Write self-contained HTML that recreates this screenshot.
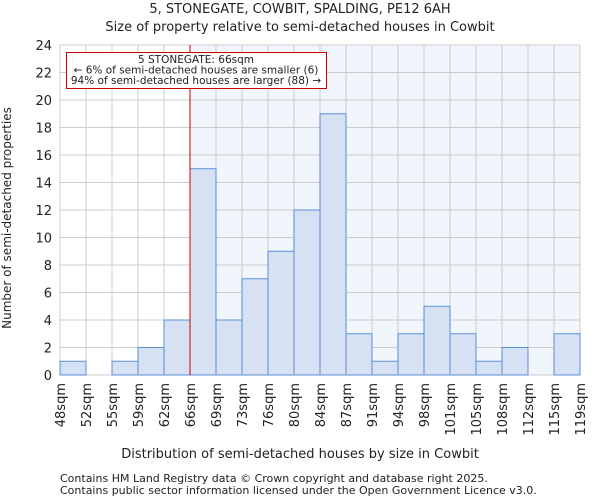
<!DOCTYPE html>
<html><head><meta charset="utf-8"><style>
body{margin:0;background:#fff;font-family:"DejaVu Sans","Liberation Sans",sans-serif;}
svg text{font-family:"DejaVu Sans","Liberation Sans",sans-serif;fill:#222;}
</style></head><body>
<svg id="c" width="600" height="500">
<text x="300" y="13" text-anchor="middle" font-size="13">5, STONEGATE, COWBIT, SPALDING, PE12 6AH</text>
<text x="300" y="31" text-anchor="middle" font-size="13">Size of property relative to semi-detached houses in Cowbit</text>
<g id="g"></g>
<text x="300" y="458" text-anchor="middle" font-size="13">Distribution of semi-detached houses by size in Cowbit</text>
<text transform="translate(11,218) rotate(-90)" text-anchor="middle" font-size="12">Number of semi-detached properties</text>
<text x="60" y="482" font-size="11">Contains HM Land Registry data © Crown copyright and database right 2025.</text>
<text x="60" y="494" font-size="11">Contains public sector information licensed under the Open Government Licence v3.0.</text>
</svg>
<script>
const categories=["48sqm","52sqm","55sqm","59sqm","62sqm","66sqm","69sqm","73sqm","76sqm","80sqm","84sqm","87sqm","91sqm","94sqm","98sqm","101sqm","105sqm","108sqm","112sqm","115sqm","119sqm"];
const counts=[1,0,1,2,4,15,4,7,9,12,19,3,1,3,5,3,1,2,0,3];
const yTicks=[0,2,4,6,8,10,12,14,16,18,20,22,24];
const markerIndex=5;
const NS="http://www.w3.org/2000/svg";
const L=60,R=580,T=45,B=375,yMax=24;
const bw=(R-L)/counts.length;
const x=i=>L+i*bw;
const y=v=>B-(v/yMax)*(B-T);
const g=document.getElementById('g');
function mk(t,a){const e=document.createElementNS(NS,t);for(const k in a)e.setAttribute(k,a[k]);g.appendChild(e);return e;}
let e;
e=mk('rect',{x:x(markerIndex),y:T,width:R-x(markerIndex),height:B-T,fill:'#eef2fb',opacity:0.8});


yTicks.forEach(v=>{
 e=mk('line',{x1:L,x2:R,y1:y(v),y2:y(v),stroke:'#ccc','stroke-width':1});
 
 
 e=mk('text',{x:L-8,y:y(v)+5,'text-anchor':'end','font-size':13});e.textContent=v;
 
 
});
categories.forEach((c,i)=>{
 e=mk('line',{x1:x(i),x2:x(i),y1:T,y2:B,stroke:'#ccc','stroke-width':1});
 
 
 e=mk('text',{transform:`translate(${x(i)+5},${B+8}) rotate(-90)`,'text-anchor':'end','font-size':13});e.textContent=c;
 
 
});
counts.forEach((v,i)=>{
 if(v<=0)return;
 e=mk('rect',{x:x(i),y:y(v),width:bw,height:B-y(v),fill:'#d6e1f3',stroke:'#5b8fd6','stroke-width':1});
 
 
});
e=mk('line',{x1:x(markerIndex),x2:x(markerIndex),y1:T,y2:B,stroke:'#cc0000','stroke-width':1});


e=mk('rect',{x:66.5,y:52.5,width:260,height:36,fill:'#fff',stroke:'#cc0000','stroke-width':1});


[["5 STONEGATE: 66sqm",63],["← 6% of semi-detached houses are smaller (6)",73.5],["94% of semi-detached houses are larger (88) →",84]].forEach(([t,yy])=>{
 e=mk('text',{x:196,y:yy,'text-anchor':'middle','font-size':10.5});e.textContent=t;
 
 
});
</script>
</body></html>
